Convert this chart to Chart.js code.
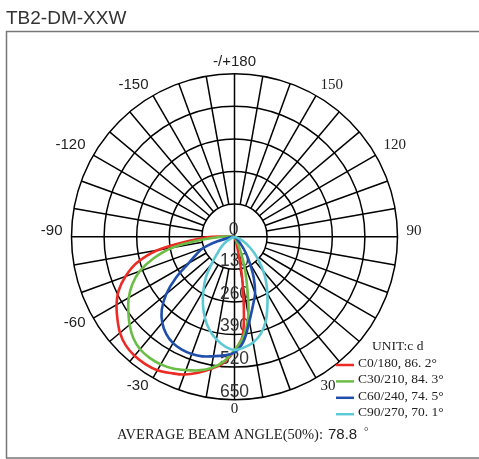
<!DOCTYPE html>
<html>
<head>
<meta charset="utf-8">
<title>TB2-DM-XXW</title>
<script src="https://cdn.jsdelivr.net/npm/chart.js@4.4.1/dist/chart.umd.min.js"></script>
<style>
  html, body { margin: 0; padding: 0; background: #fff; }
  canvas { display: block; }
</style>
</head>
<body>
<canvas id="chart" width="479" height="459"></canvas>
<script>
// gamma angle in degrees, 0 = straight down, negative = left half
const gammaAngles = [-95, -90, -85, -80, -75, -70, -65, -60, -55, -50, -45, -40, -35, -30, -25, -20, -15, -10, -5,
  0, 5, 10, 15, 20, 25, 30, 35, 40, 45, 50, 55, 60, 65, 70, 75, 80, 85, 90];

// candela values, one per gamma angle
const c0Values = [0, 90, 175, 312, 403, 462, 510, 543, 570, 596, 613, 620, 620, 615, 600, 585, 562, 535, 505,
  455, 390, 185, 45, 12, 0, 0, 0, 0, 0, 0, 0, 0, 0, 0, 0, 0, 0, 0];
const c30Values = [0, 50, 125, 252, 335, 402, 450, 487, 517, 546, 571, 586, 590, 588, 580, 566, 552, 532, 500,
  452, 400, 318, 188, 100, 38, 0, 0, 0, 0, 0, 0, 0, 0, 0, 0, 0, 0, 0];
const c60Values = [0, 0, 0, 15, 70, 135, 168, 212, 285, 355, 410, 448, 474, 490, 497, 498, 494, 484, 475,
  462, 418, 342, 284, 240, 182, 122, 77, 40, 15, 0, 0, 0, 0, 0, 0, 0, 0, 0];
const c90Values = [0, 0, 0, 0, 0, 0, 15, 33, 55, 75, 100, 143, 200, 248, 298, 345, 385, 416, 439,
  452, 443, 428, 402, 362, 310, 262, 220, 178, 138, 105, 75, 50, 30, 10, 0, 0, 0, 0];

const seriesNames = ['C0/180, 86. 2°', 'C30/210, 84. 3°', 'C60/240, 74. 5°', 'C90/270, 70. 1°'];

// rings and angle labels of the polar grid
const ringValues = [130, 260, 390, 520, 650];
const angleTicks = [180, 150, 120, 90, 60, 30, 0, -30, -60, -90, -120, -150];
const angleLabels = ['-/+180', '150', '120', '90', '', '30', '0', '-30', '-60', '-90', '-120', '-150'];

const maxR = 650;
const colors = ['#ec2b25', '#6cbd45', '#1f4eab', '#5dc9d4'];

function toPoints(values) {
  return gammaAngles.map((g, i) => {
    let a = g * Math.PI / 180;
    return { x: values[i] * Math.sin(a), y: -values[i] * Math.cos(a) };
  });
}

const polarGrid = {
  id: 'polarGrid',
  beforeDatasetsDraw(chart) {
    const { ctx, scales: { x, y } } = chart;
    const cx = x.getPixelForValue(0), cy = y.getPixelForValue(0);
    const rad = v => x.getPixelForValue(v) - cx;
    ctx.save();
    ctx.strokeStyle = '#000';
    ctx.lineWidth = 1.5;
    ringValues.forEach(v => {
      ctx.beginPath();
      ctx.arc(cx, cy, rad(v), 0, Math.PI * 2);
      ctx.stroke();
    });
    // spokes every 10 degrees, main cross goes through the centre
    const rIn = rad(ringValues[0]), rOut = rad(maxR);
    for (let a = 0; a < 360; a += 10) {
      let t = a * Math.PI / 180;
      let r0 = (a % 90 === 0) ? 0 : rIn;
      ctx.beginPath();
      ctx.moveTo(cx + r0 * Math.sin(t), cy + r0 * Math.cos(t));
      ctx.lineTo(cx + rOut * Math.sin(t), cy + rOut * Math.cos(t));
      ctx.stroke();
    }
    // ring values along the bottom axis
    ctx.fillStyle = '#333';
    ctx.font = '17.5px "Liberation Sans", Arial, sans-serif';
    ctx.textAlign = 'center';
    ctx.textBaseline = 'middle';
    ctx.fillText('0', cx - 1, cy - 7);
    ringValues.forEach(v => ctx.fillText(String(v), cx, cy + rad(v) - 8));
    ctx.restore();
  },
  afterDraw(chart) {
    const { ctx, scales: { x, y } } = chart;
    const cx = x.getPixelForValue(0), cy = y.getPixelForValue(0);
    const rOut = x.getPixelForValue(maxR) - cx;
    ctx.save();

    // title and frame
    ctx.fillStyle = '#333';
    ctx.font = '19px "Liberation Sans", Arial, sans-serif';
    ctx.textAlign = 'left';
    ctx.textBaseline = 'alphabetic';
    ctx.fillText('TB2-DM-XXW', 6, 24);
    ctx.strokeStyle = '#777';
    ctx.lineWidth = 1.5;
    ctx.strokeRect(6.5, 31.5, 520, 426.5);

    // angle labels
    ctx.fillStyle = '#222';
    ctx.textBaseline = 'middle';
    angleTicks.forEach((g, i) => {
      if (!angleLabels[i]) return;
      let t = g * Math.PI / 180;
      let s = Math.sin(t), c = Math.cos(t);
      let r = rOut + 9;
      let px = cx + r * s, py = cy + r * c;
      if (c < 0.01) py += Math.abs(s) > 0.8 ? -6 : -3;
      ctx.textAlign = Math.abs(s) < 0.2 ? 'center' : (s < 0 ? 'right' : 'left');
      ctx.font = (g > 0 && g < 180) || g === 0
        ? '15px "Liberation Serif", "Times New Roman", serif'
        : '15px "Liberation Sans", Arial, sans-serif';
      ctx.fillText(angleLabels[i], px, py);
    });

    // legend
    ctx.font = '13.5px "Liberation Serif", "Times New Roman", serif';
    ctx.textAlign = 'left';
    ctx.textBaseline = 'alphabetic';
    ctx.fillStyle = '#222';
    ctx.fillText('UNIT:c d', 372, 350);
    chart.data.datasets.forEach((ds, i) => {
      let ly = 365 + i * 16.4;
      ctx.strokeStyle = ds.borderColor;
      ctx.lineWidth = 2.5;
      ctx.beginPath();
      ctx.moveTo(336, ly);
      ctx.lineTo(354, ly);
      ctx.stroke();
      ctx.fillText(ds.label, 358, ly + 2);
    });

    // beam angle line
    ctx.font = '14.5px "Liberation Serif", "Times New Roman", serif';
    ctx.fillText('AVERAGE BEAM ANGLE(50%):', 117, 439);
    ctx.font = '15px "Liberation Sans", Arial, sans-serif';
    ctx.fillText('78.8', 328, 439);
    ctx.font = '11px "Liberation Serif", serif';
    ctx.fillText('°', 364, 435);
    ctx.restore();
  }
};

const ctx = document.getElementById('chart').getContext('2d');
const valueSets = [c0Values, c30Values, c60Values, c90Values];

const myChart = new Chart(ctx, {
  type: 'scatter',
  data: {
    datasets: valueSets.map((vals, i) => ({
      label: seriesNames[i],
      data: toPoints(vals),
      borderColor: colors[i],
      backgroundColor: colors[i],
      borderWidth: 2.6,
      showLine: true,
      pointRadius: 0,
      tension: 0.35,
      clip: false,
      order: 4 - i
    }))
  },
  options: {
    responsive: false,
    animation: false,
    devicePixelRatio: 1,
    layout: { padding: { left: 71.5, right: 81.5, top: 73.7, bottom: 59.3 } },
    scales: {
      x: { type: 'linear', min: -maxR, max: maxR, display: false },
      y: { type: 'linear', min: -maxR, max: maxR, display: false }
    },
    plugins: {
      legend: { display: false },
      tooltip: { enabled: false }
    }
  },
  plugins: [polarGrid]
});
</script>
</body>
</html>
